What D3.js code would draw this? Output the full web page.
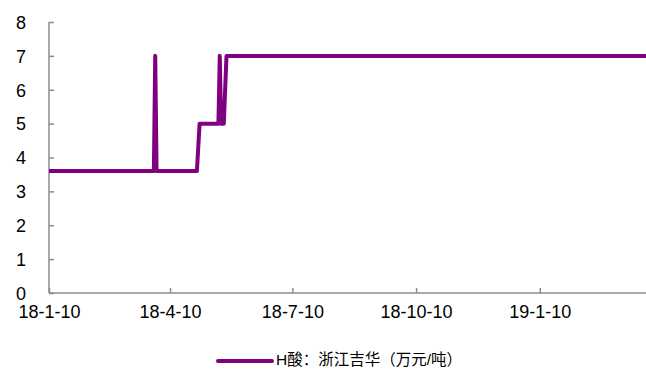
<!DOCTYPE html>
<html>
<head>
<meta charset="utf-8">
<script src="https://d3js.org/d3.v7.min.js"></script>
<style>
  body { margin: 0; background: #fff; }
  .axis text { font-family: "Liberation Sans", Arial, sans-serif; font-size: 18px; fill: #000; }
  .axis path, .axis line { stroke: #8c8c8c; stroke-width: 1.5; }
  .legend text { font-family: "Liberation Sans", "Noto Sans CJK SC", sans-serif; font-size: 15.5px; }
</style>
</head>
<body>
<svg id="chart" width="646" height="369"></svg>
<script>
// H酸 price, 浙江吉华 (万元/吨) - change points
var dates = ["2018-01-10", "2018-03-29", "2018-03-30", "2018-03-31", "2018-04-30", "2018-05-02",
             "2018-05-16", "2018-05-17", "2018-05-18", "2018-05-20", "2018-05-22", "2019-03-30"];
var prices = [3.6, 3.6, 7, 3.6, 3.6, 5, 5, 7, 5, 5, 7, 7];
var xTicks = ["2018-01-10", "2018-04-10", "2018-07-10", "2018-10-10", "2019-01-10"];
var xTickLabels = ["18-1-10", "18-4-10", "18-7-10", "18-10-10", "19-1-10"];
var yTicks = [0, 1, 2, 3, 4, 5, 6, 7, 8];
var seriesName = "H酸：浙江吉华（万元/吨）";

var parse = d3.timeParse("%Y-%m-%d");
var data = dates.map(function(d, i) { return {date: parse(d), value: prices[i]}; });

var svg = d3.select("#chart");

var x = d3.scaleTime()
  .domain([parse("2018-01-10"), parse("2019-03-30")])
  .range([49, 646]);

var y = d3.scaleLinear()
  .domain([0, 8])
  .range([293, 22]);

svg.append("g")
  .attr("class", "axis")
  .attr("transform", "translate(49,0)")
  .call(d3.axisLeft(y).tickValues(yTicks).tickSize(-5).tickPadding(23))
  .call(function(g) { g.selectAll("text").attr("dy", "0.35em"); });

svg.append("g")
  .attr("class", "axis")
  .attr("transform", "translate(0,293)")
  .call(d3.axisBottom(x)
    .tickValues(xTicks.map(parse))
    .tickFormat(function(d, i) { return xTickLabels[i]; })
    .tickSize(-5).tickSizeOuter(0).tickPadding(12));

svg.selectAll(".axis .domain").attr("d", function() {
  return d3.select(this.parentNode).attr("transform") == "translate(49,0)"
    ? "M0,22V293" : "M49,0H646";
});

var line = d3.line()
  .x(function(d) { return x(d.date); })
  .y(function(d) { return y(d.value); });

svg.append("path")
  .datum(data)
  .attr("fill", "none")
  .attr("stroke", "#800080")
  .attr("stroke-width", 4)
  .attr("stroke-linejoin", "round")
  .attr("d", line);

var legend = svg.append("g").attr("class", "legend");
legend.append("line")
  .attr("x1", 218).attr("x2", 272)
  .attr("y1", 361).attr("y2", 361)
  .attr("stroke", "#800080")
  .attr("stroke-width", 4)
  .attr("stroke-linecap", "round");
legend.append("text")
  .attr("x", 276).attr("y", 360)
  .attr("dy", "0.35em")
  .text(seriesName);
</script>
</body>
</html>
